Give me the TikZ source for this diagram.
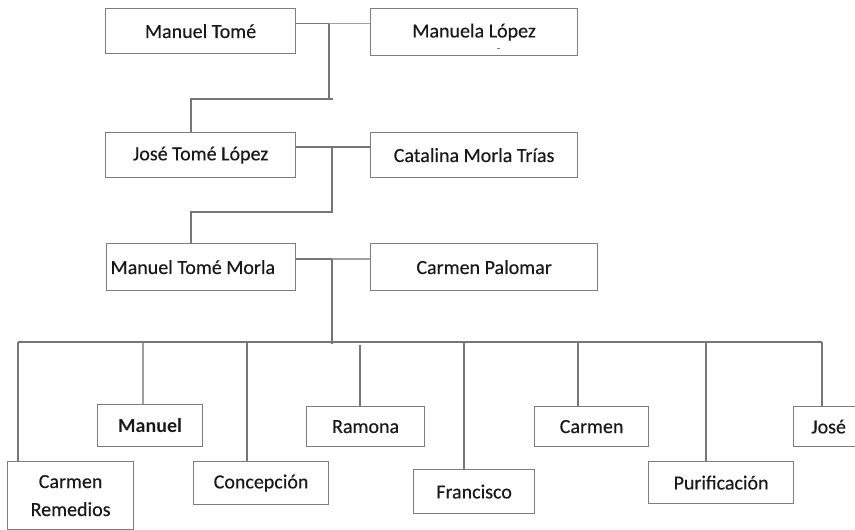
\documentclass[tikz,border=0pt]{standalone}
\usepackage{fontspec}
\setmainfont{Carlito}
\newfontfamily\semib{Carlito}[FakeBold=0.35]
\definecolor{boxgray}{RGB}{125,125,125}
\definecolor{linedark}{RGB}{118,118,118}
\definecolor{linelight}{RGB}{160,160,160}
\definecolor{txtcol}{RGB}{25,25,25}
\begin{document}
\begin{tikzpicture}[x=1pt,y=-1pt,
  person/.style={draw=boxgray, line width=1.2pt, fill=white, inner sep=0pt, anchor=north west,
    font=\fontsize{20}{28}\selectfont\semib, text=txtcol, align=center},
  conn/.style={draw=linedark, line width=1.2pt},
  connlight/.style={draw=linelight, line width=1.2pt}]
\useasboundingbox (0,0) rectangle (855,530);
\fill[white] (0,0) rectangle (855,530);

% generation 1
\node[person, minimum width=190pt, minimum height=45pt] (mt) at (105,8) {Manuel Tomé};
\node[person, minimum width=207pt, minimum height=47pt] (ml) at (370,8) {Manuela López};
\draw[draw=boxgray, line width=1pt] (497,48) -- (499.5,48);

% generation 2
\node[person, minimum width=190pt, minimum height=45pt] (jtl) at (105,132) {José Tomé López};
\node[person, minimum width=207pt, minimum height=45pt] (cmt) at (370,132) {Catalina Morla Trías};

% generation 3
\node[person, minimum width=189pt, minimum height=47pt] (mtm) at (106,243) {\makebox[181pt][l]{Manuel Tomé Morla}};
\node[person, minimum width=227pt, minimum height=47pt] (cp) at (370,243) {Carmen Palomar};

% children
\node[person, minimum width=126pt, minimum height=68pt] (cr) at (7,461) {Carmen\\Remedios};
\node[person, minimum width=105pt, minimum height=42pt, font=\fontsize{20}{28}\selectfont\bfseries] (man) at (97,404) {Manuel};
\node[person, minimum width=135pt, minimum height=43pt] (con) at (193,461) {Concepción};
\node[person, minimum width=118pt, minimum height=40pt] (ram) at (306,406) {Ramona};
\node[person, minimum width=121pt, minimum height=44pt] (fra) at (413,469) {Francisco};
\node[person, minimum width=114pt, minimum height=40pt] (car) at (534,406) {Carmen};
\node[person, minimum width=145pt, minimum height=42pt] (pur) at (648,461) {Purificación};
\node[person, minimum width=70pt, minimum height=40pt] (jos) at (793,406) {José};

% connectors gen1 -> gen2
\coordinate (j1) at (329,23.5);
\coordinate (k1) at (329,99);
\coordinate (t1) at (333,99);
\coordinate (d1) at (191,99);
\draw[conn] (mt.east |- j1) -- (j1);
\draw[connlight] (j1) -- (ml.west |- j1);
\draw[conn] (j1) -- (k1);
\draw[conn] (t1) -- (d1) -- (d1 |- jtl.north);

% connectors gen2 -> gen3
\coordinate (j2) at (332,147);
\coordinate (k2) at (332,212);
\coordinate (d2) at (191,212);
\draw[conn] (jtl.east |- j2) -- (cmt.west |- j2);
\draw[conn] (j2) -- (k2) -- (d2) -- (d2 |- mtm.north);

% connectors gen3 -> children
\coordinate (j3) at (332,259);
\coordinate (k3) at (332,344);
\coordinate (bl) at (18,342);
\coordinate (br) at (822,342);
\draw[conn] (mtm.east |- j3) -- (j3);
\draw[connlight] (j3) -- (cp.west |- j3);
\draw[conn] (j3) -- (k3);
\draw[conn] (bl) -- (br);

\coordinate (c1) at (18,342);
\coordinate (c2) at (143,343);
\coordinate (c3) at (247,342);
\coordinate (c4) at (360,345);
\coordinate (c5) at (464,342);
\coordinate (c6) at (578,342);
\coordinate (c7) at (706,342);
\coordinate (c8) at (822,342);
\draw[conn] (c1) -- (c1 |- cr.north);
\draw[connlight] (c2) -- (c2 |- man.north);
\draw[conn] (c3) -- (c3 |- con.north);
\draw[conn] (c4) -- (c4 |- ram.north);
\draw[conn] (c5) -- (c5 |- fra.north);
\draw[conn] (c6) -- (c6 |- car.north);
\draw[conn] (c7) -- (c7 |- pur.north);
\draw[conn] (c8) -- (c8 |- jos.north);
\end{tikzpicture}
\end{document}
